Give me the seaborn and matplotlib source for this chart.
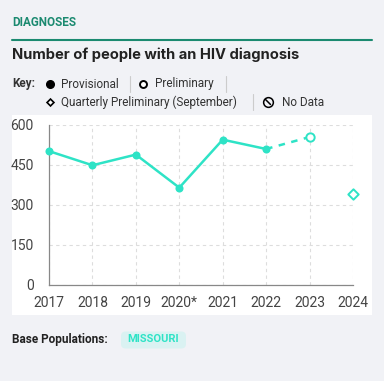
import numpy as np
import pandas as pd
import matplotlib.pyplot as plt
import seaborn as sns
from matplotlib.patches import FancyBboxPatch, Rectangle
from matplotlib.lines import Line2D

# Data
years = ["2017", "2018", "2019", "2020*", "2021", "2022", "2023", "2024"]
values = [502, 449, 489, 365, 545, 510, 555, 340]
status = ["Provisional"] * 6 + ["Preliminary", "Quarterly"]
y_ticks = [0, 150, 300, 450, 600]

df = pd.DataFrame({"year": years, "value": values, "status": status})
df["pos"] = np.arange(len(df))

teal = "#2ee3c6"
green = "#1b8a70"
card = "#f1f2f6"

sns.set_theme(style="white")
plt.rcParams["font.family"] = ["Roboto", "DejaVu Sans"]

W, H = 384, 381
fig = plt.figure(figsize=(W / 100, H / 100), dpi=100)
fig.patch.set_facecolor(card)


def fx(px):
    return px / W


def fy(py):
    return 1 - py / H


# white panel behind the chart
fig.add_artist(Rectangle((fx(12), fy(315)), fx(360), (315 - 115) / H,
                         transform=fig.transFigure, facecolor="white",
                         edgecolor="none", zorder=0))

# header
fig.text(fx(12), fy(23), "DIAGNOSES", color=green, fontsize=8.5,
         fontweight="bold", va="center", ha="left")
fig.add_artist(Line2D([fx(12), fx(372)], [fy(40), fy(40)], color=green, lw=1.5))
fig.text(fx(12), fy(55), "Number of people with an HIV diagnosis",
         fontsize=10.6, fontweight="bold", va="center", ha="left",
         color="#222222", family=["Inter", "DejaVu Sans"])

# key
kc = "#333333"
fig.text(fx(12), fy(84), "Key:", fontsize=8.5, fontweight="bold",
         va="center", color=kc)
fig.add_artist(Line2D([fx(50)], [fy(84)], marker="o", ms=5.5, color="black",
                      transform=fig.transFigure))
fig.text(fx(61), fy(84), "Provisional", fontsize=8.5, va="center", color=kc)
fig.add_artist(Line2D([fx(130), fx(130)], [fy(76), fy(92)], color="#cccccc", lw=0.8))
fig.add_artist(Line2D([fx(143)], [fy(84)], marker="o", ms=5, mfc="white",
                      mec="black", mew=1.4, transform=fig.transFigure))
fig.text(fx(155), fy(84), "Preliminary", fontsize=8.5, va="center", color=kc)
fig.add_artist(Line2D([fx(226), fx(226)], [fy(76), fy(92)], color="#cccccc", lw=0.8))
fig.add_artist(Line2D([fx(50)], [fy(102)], marker="D", ms=3.5, mfc="white",
                      mec="black", mew=1.2, transform=fig.transFigure))
fig.text(fx(61), fy(102), "Quarterly Preliminary (September)", fontsize=8.5,
         va="center", color=kc)
fig.add_artist(Line2D([fx(253), fx(253)], [fy(94), fy(110)], color="#cccccc", lw=0.8))
fig.add_artist(Line2D([fx(268)], [fy(102)], marker="o", ms=7, mfc="none",
                      mec="black", mew=1.1, transform=fig.transFigure))
fig.add_artist(Line2D([fx(265.5), fx(270.5)], [fy(99.5), fy(104.5)],
                      color="black", lw=1.1))
fig.text(fx(282), fy(102), "No Data", fontsize=8.5, va="center", color=kc)

# chart
ax = fig.add_axes([fx(49), fy(285), fx(353 - 49), (285 - 125) / H])
ax.set_facecolor("none")

solid = df[df["status"] == "Provisional"]
dash = df[df["status"].isin(["Provisional", "Preliminary"])].tail(2)
prelim = df[df["status"] == "Preliminary"]
quart = df[df["status"] == "Quarterly"]

sns.lineplot(data=solid, x="pos", y="value", ax=ax, color=teal, lw=1.8,
             marker="o", markersize=5.8, markeredgewidth=0, zorder=3)
sns.lineplot(data=dash, x="pos", y="value", ax=ax, color=teal, lw=1.8,
             linestyle=(0, (2.6, 2.6)), zorder=2)
sns.scatterplot(data=prelim, x="pos", y="value", ax=ax, s=36, marker="o",
                facecolor="white", edgecolor=teal, linewidth=1.4, zorder=4)
sns.scatterplot(data=quart, x="pos", y="value", ax=ax, s=28, marker="D",
                facecolor="white", edgecolor=teal, linewidth=1.4, zorder=4)

ax.set_xlim(0, len(years) - 1)
ax.set_ylim(0, 600)
ax.set_xticks(df["pos"])
ax.set_xticklabels(years)
ax.set_yticks(y_ticks)
ax.set_xlabel("")
ax.set_ylabel("")
ax.grid(True, color="#dddddd", linestyle=(0, (3, 3)), lw=0.8)
for s in ["top", "right"]:
    ax.spines[s].set_visible(False)
for s in ["left", "bottom"]:
    ax.spines[s].set_color("#888888")
    ax.spines[s].set_linewidth(0.9)
ax.tick_params(axis="x", length=4, width=0.8, color="#888888", pad=4,
               labelsize=10, labelcolor="#444444")
ax.tick_params(axis="y", length=0, pad=11, labelsize=10, labelcolor="#444444")
for c in ax.collections + ax.lines:
    c.set_clip_on(False)

# base populations
fig.text(fx(12), fy(339), "Base Populations:", fontsize=8.5, fontweight="bold",
         va="center", color="#222222")
fig.add_artist(FancyBboxPatch((fx(121), fy(348.5)), fx(65), 17 / H,
                              boxstyle="round,pad=0,rounding_size=0.012",
                              transform=fig.transFigure, facecolor="#daf2f2",
                              edgecolor="none"))
fig.text(fx(153.5), fy(339.5), "MISSOURI", fontsize=8, fontweight="bold",
         va="center", ha="center", color=teal)

fig.savefig("out.png", dpi=100, facecolor=card)
